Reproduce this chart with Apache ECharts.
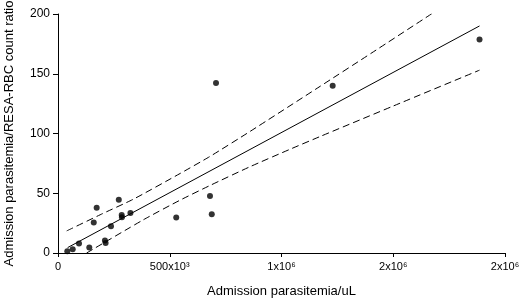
<!DOCTYPE html>
<html>
<head>
<meta charset="utf-8">
<script src="https://cdn.jsdelivr.net/npm/echarts@6/dist/echarts.min.js"></script>
<style>
body { margin: 0; background: #fff; }
#chart { width: 520px; height: 298px; }
</style>
</head>
<body>
<div id="chart"></div>
<script>
// 数据点 (parasitemia/uL, ratio)
var pointX = [41600, 65800, 94000, 140000, 160000, 173000, 210000, 213000, 237000, 272000,
	285000, 286000, 324000, 529000, 680000, 688000, 707000, 1229000, 1886000];
var pointY = [1.4, 3.1, 7.9, 4.5, 25.5, 37.8, 10.4, 8.4, 22.4, 44.5,
	31.7, 30, 33.4, 29.7, 47.6, 32.5, 142.3, 140, 178.7];

// 回归线
var fitX = [43000, 1886000];
var fitY = [4.5, 190];

// 置信带
var upperX = [39000, 200000, 337000, 546000, 680000, 859000, 1173000, 1400000, 1673000];
var upperY = [18.5, 33, 45, 66.5, 80.8, 101.7, 139.5, 167, 200.3];
var lowerX = [128000, 382000, 546000, 680000, 859000, 1038000, 1173000, 1500000, 1886000];
var lowerY = [0, 27.8, 44.2, 56.5, 72.2, 86.8, 97.5, 123, 153];

// x轴刻度文字
var xTickLabels = ['0', '500x10³', '1x10⁶', '2x10⁶', '2x10⁶'];
var yTicks = [0, 50, 100, 150, 200];

function pairs(xs, ys) {
	var out = [];
	for (var i = 0; i < xs.length; i++) {
		out.push([ xs[i], ys[i] ]);
	}
	return out;
}

var chart = echarts.init(document.getElementById('chart'));
var fontFamily = 'Liberation Sans, Arial, sans-serif';
var option = {
	animation : false,
	grid : {
		left : 58,
		right : 15,
		top : 14,
		bottom : 45,
		outerBoundsMode : 'none'
	},
	xAxis : {
		type : 'value',
		min : 0,
		max : 2000000,
		interval : 500000,
		name : 'Admission parasitemia/uL',
		nameLocation : 'middle',
		nameGap : 32,
		nameTextStyle : {
			color : '#000',
			fontSize : 13,
			fontFamily : fontFamily
		},
		splitLine : { show : false },
		axisLine : { lineStyle : { color : '#000', width : 1 } },
		axisTick : { length : 4, lineStyle : { color : '#000' } },
		axisLabel : {
			color : '#000',
			fontSize : 11,
			fontFamily : fontFamily,
			margin : 8,
			formatter : function(v) {
				return xTickLabels[Math.round(v / 500000)];
			}
		}
	},
	yAxis : {
		type : 'value',
		min : yTicks[0],
		max : yTicks[yTicks.length - 1],
		interval : 50,
		name : 'Admission parasitemia/RESA-RBC count ratio',
		nameLocation : 'middle',
		nameGap : 42,
		nameTextStyle : {
			color : '#000',
			fontSize : 13,
			fontFamily : fontFamily
		},
		splitLine : { show : false },
		axisLine : { show : true, lineStyle : { color : '#000', width : 1 } },
		axisTick : { show : true, length : 5, lineStyle : { color : '#000' } },
		axisLabel : {
			color : '#000',
			fontSize : 12,
			fontFamily : fontFamily,
			margin : 8
		}
	},
	series : [ {
		type : 'line',
		data : pairs(upperX, upperY),
		smooth : 0.2,
		symbol : 'none',
		lineStyle : { color : '#000', width : 1, type : [ 7, 4 ] }
	}, {
		type : 'line',
		data : pairs(lowerX, lowerY),
		smooth : 0.2,
		symbol : 'none',
		lineStyle : { color : '#000', width : 1, type : [ 7, 4 ] }
	}, {
		type : 'line',
		data : pairs(fitX, fitY),
		symbol : 'none',
		lineStyle : { color : '#000', width : 1 }
	}, {
		type : 'scatter',
		data : pairs(pointX, pointY),
		symbol : 'circle',
		symbolSize : 6,
		itemStyle : { color : '#000' }
	} ]
};
chart.setOption(option);
</script>
</body>
</html>
